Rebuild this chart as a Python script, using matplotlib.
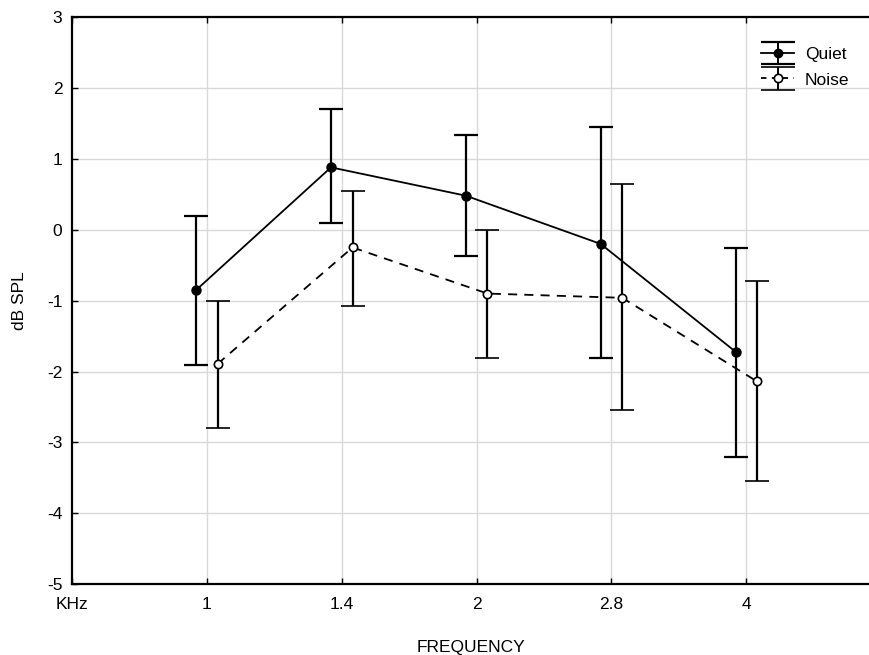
import numpy as np
import matplotlib
matplotlib.use('Agg')
import matplotlib.pyplot as plt
from matplotlib.legend_handler import HandlerErrorbar

plt.rcParams['font.family'] = ['Liberation Sans', 'DejaVu Sans']
plt.rcParams['axes.unicode_minus'] = False

# data
freq_labels = ['KHz', '1', '1.4', '2', '2.8', '4']
quiet_mean = [-0.85, 0.88, 0.48, -0.20, -1.72]
quiet_hi = [0.20, 1.70, 1.33, 1.45, -0.26]
quiet_lo = [-1.91, 0.09, -0.37, -1.81, -3.20]
noise_mean = [-1.89, -0.25, -0.90, -0.96, -2.14]
noise_hi = [-1.00, 0.55, 0.00, 0.64, -0.72]
noise_lo = [-2.79, -1.07, -1.81, -2.54, -3.55]

pos = np.arange(1, len(quiet_mean) + 1)
shift = 0.08
fs = 12.5

fig = plt.figure(figsize=(8.69, 6.55), dpi=100)
ax = fig.add_axes([0.083, 0.108, 0.917, 0.866])

for v in [2, 1, 0, -1, -2, -3, -4]:
    ax.axhline(v, color='#d9d9d9', lw=1.0, zorder=0)
for p in pos:
    ax.axvline(p, color='#d9d9d9', lw=1.0, zorder=0)

qm = np.array(quiet_mean)
nm = np.array(noise_mean)
q_err = [qm - np.array(quiet_lo), np.array(quiet_hi) - qm]
n_err = [nm - np.array(noise_lo), np.array(noise_hi) - nm]

ax.errorbar(pos - shift, qm, yerr=q_err, color='black', lw=1.3,
            elinewidth=1.6, capsize=8.5, capthick=1.6,
            marker='o', ms=6.5, mfc='black', mec='black', zorder=3)
ax.errorbar(pos + shift, nm, yerr=n_err, color='black', lw=1.3, ls=(0, (5, 4)),
            elinewidth=1.6, capsize=8.5, capthick=1.6,
            marker='o', ms=6, mfc='white', mec='black', mew=1.2, zorder=3)

# legend proxies with wide caps, like the reference key
pq = ax.errorbar([np.nan], [np.nan], yerr=[1], color='black', lw=1.3,
                 elinewidth=1.4, capsize=12.5, capthick=1.6,
                 marker='o', ms=6, mfc='black', mec='black', label='Quiet')
pn = ax.errorbar([np.nan], [np.nan], yerr=[1], color='black', lw=1.3, ls=(0, (3, 3)),
                 elinewidth=1.4, capsize=12.5, capthick=1.6,
                 marker='o', ms=6, mfc='white', mec='black', mew=1.2, label='Noise')

ax.set_xlim(0, 5.91)
ax.set_ylim(-5, 3)
ax.set_xticks(np.arange(0, len(freq_labels)))
ax.set_xticklabels(freq_labels)
ax.set_yticks(np.arange(-5, 4, 1))
ax.tick_params(direction='in', length=4, width=1, labelsize=fs,
               top=True, bottom=True, left=True, right=False, pad=7)
ax.tick_params(axis='x', pad=9)
for side in ['left', 'top', 'bottom']:
    ax.spines[side].set_linewidth(1.6)
ax.spines['right'].set_visible(False)

ax.set_ylabel('dB SPL', fontsize=fs, labelpad=14)
ax.set_xlabel('FREQUENCY', fontsize=fs, labelpad=20)

ax.legend(handles=[pq, pn], loc='upper right', bbox_to_anchor=(0.995, 0.975),
          frameon=False, fontsize=fs, handlelength=1.9, handletextpad=0.6,
          labelspacing=0.6,
          handler_map={type(pq): HandlerErrorbar(xerr_size=0.9, yerr_size=0.65)})

fig.savefig('out.png', dpi=100)
